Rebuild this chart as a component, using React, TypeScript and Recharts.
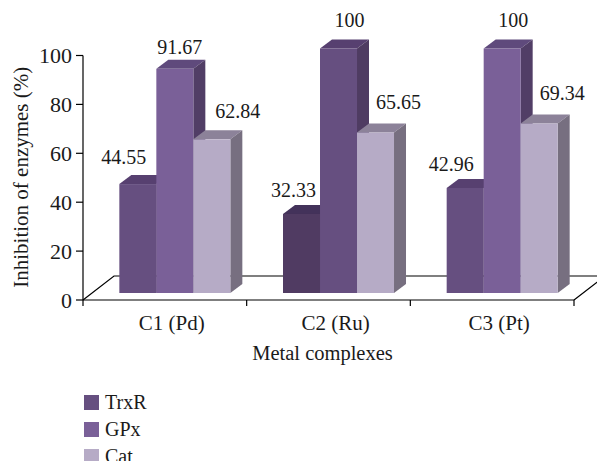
import { BarChart, Bar, XAxis, YAxis, Legend, LabelList, ReferenceArea } from "recharts"

const categories = ["C1 (Pd)", "C2 (Ru)", "C3 (Pt)"]
const trxr = [44.55, 32.33, 42.96]
const gpx = [91.67, 100, 100]
const cat = [62.84, 65.65, 69.34]
const yTicks = [0, 20, 40, 60, 80, 100]

const data = categories.map((name, i) => ({ name, TrxR: trxr[i], GPx: gpx[i], Cat: cat[i] }))

const FONT = "'Liberation Serif', serif"
const TEXT = "#1a1a1a"

// the bars stand a little behind the axis line
const SHIFT_X = 9.5
const SHIFT_Y = 7
const DEPTH_X = 12
const DEPTH_Y = 9

// front, top, side for each category
const dark = ["#503b62", "#43325a", "#47365a"]
const mid = ["#664f80", "#574070", "#4f3c62"]
const light = ["#7a6098", "#5f4a7c", "#513e66"]
const pale = ["#b6abc6", "#8c8299", "#776f80"]

const trxrFaces = [mid, dark, mid]
const gpxFaces = [light, mid, light]
const catFaces = [pale, pale, pale]

// label offset from the top centre of the front face
const trxrNudge = [[-14, -27], [-8, -24], [-14, -24]]
const gpxNudge = [[5, -22], [11, -29], [11, -29]]
const catNudge = [[26, -28], [23, -30], [23, -30]]

function box3d(faces: string[][]) {
  return (props: any) => {
    const { x, y, width, height, index } = props
    const [front, top, side] = faces[index]
    const l = x + SHIFT_X
    const r = l + width
    const t = y - SHIFT_Y
    const b = t + height
    return (
      <g>
        <path d={`M${l},${t}L${l + DEPTH_X},${t - DEPTH_Y}L${r + DEPTH_X},${t - DEPTH_Y}L${r},${t}Z`} fill={top} />
        <path d={`M${r},${t}L${r + DEPTH_X},${t - DEPTH_Y}L${r + DEPTH_X},${b - DEPTH_Y}L${r},${b}Z`} fill={side} />
        <rect x={l} y={t} width={width} height={height} fill={front} />
      </g>
    )
  }
}

function valueLabel(nudge: number[][]) {
  return (props: any) => {
    const { x, y, width, value, index } = props
    return (
      <text
        x={x + SHIFT_X + width / 2 + nudge[index][0]}
        y={y - SHIFT_Y + nudge[index][1]}
        textAnchor="middle"
        dominantBaseline="central"
        fontFamily={FONT}
        fontSize={20}
        fill={TEXT}
      >
        {value}
      </text>
    )
  }
}

function Floor(props: any) {
  const { x, y, width, height } = props
  const bottom = y + height
  return (
    <path
      d={`M${x},${bottom}L${x + 31},${bottom - 24}L${x + width + 31},${bottom - 24}L${x + width},${bottom}`}
      fill="none"
      stroke="#000"
      strokeWidth={1.2}
    />
  )
}

function CategoryTick(props: any) {
  const { x, y, payload, index } = props
  const half = payload.offset
  const axisY = y - 8
  return (
    <g>
      <line x1={x - half} y1={axisY} x2={x - half} y2={axisY + 6} stroke="#000" strokeWidth={1.2} />
      {index === categories.length - 1 && (
        <line x1={x + half} y1={axisY} x2={x + half} y2={axisY + 6} stroke="#000" strokeWidth={1.2} />
      )}
      <text x={x + 7} y={axisY + 30} textAnchor="middle" fontFamily={FONT} fontSize={21} fill={TEXT}>
        {payload.value}
      </text>
    </g>
  )
}

function LegendList() {
  const rows = [
    { name: "TrxR", color: mid[0] },
    { name: "GPx", color: light[0] },
    { name: "Cat", color: pale[0] },
  ]
  return (
    <div style={{ fontFamily: FONT, fontSize: 20, color: TEXT }}>
      {rows.map((row) => (
        <div key={row.name} style={{ display: "flex", alignItems: "center", height: 27 }}>
          <span style={{ width: 15, height: 15, background: row.color, marginRight: 6 }} />
          <span>{row.name}</span>
        </div>
      ))}
    </div>
  )
}

export default function App() {
  return (
    <div style={{ position: "absolute", left: 0, top: 0, width: 597, height: 461, overflow: "hidden" }}>
      <BarChart
        width={597}
        height={461}
        data={data}
        barCategoryGap="16.4%"
        barGap={0}
        margin={{ top: 55.5, right: 23, left: 0, bottom: 121 }}
      >
        <XAxis
          dataKey="name"
          height={40}
          interval={0}
          tick={<CategoryTick />}
          tickLine={false}
          axisLine={{ stroke: "#000", strokeWidth: 1.2 }}
          label={{
            value: "Metal complexes",
            position: "bottom",
            offset: 5,
            dx: -6,
            fontFamily: FONT,
            fontSize: 20.5,
            fill: TEXT,
          }}
        />
        <YAxis
          width={83}
          domain={[0, 100]}
          ticks={yTicks}
          interval={0}
          tickSize={7}
          tickMargin={4}
          tick={{ fontFamily: FONT, fontSize: 22, fill: TEXT }}
          tickLine={{ stroke: "#000", strokeWidth: 1.2 }}
          axisLine={{ stroke: "#000", strokeWidth: 1.2 }}
          label={{
            value: "Inhibition of enzymes (%)",
            angle: -90,
            position: "insideLeft",
            dx: 16,
            dy: 110,
            fontFamily: FONT,
            fontSize: 21,
            fill: TEXT,
          }}
        />
        <ReferenceArea y1={0} y2={100} shape={<Floor />} ifOverflow="visible" />
        <Legend
          layout="vertical"
          align="center"
          verticalAlign="middle"
          content={<LegendList />}
          wrapperStyle={{ left: 84, top: 389, width: 120 }}
        />
        <Bar dataKey="TrxR" fill={mid[0]} shape={box3d(trxrFaces)} isAnimationActive={false}>
          <LabelList dataKey="TrxR" content={valueLabel(trxrNudge)} />
        </Bar>
        <Bar dataKey="GPx" fill={light[0]} shape={box3d(gpxFaces)} isAnimationActive={false}>
          <LabelList dataKey="GPx" content={valueLabel(gpxNudge)} />
        </Bar>
        <Bar dataKey="Cat" fill={pale[0]} shape={box3d(catFaces)} isAnimationActive={false}>
          <LabelList dataKey="Cat" content={valueLabel(catNudge)} />
        </Bar>
      </BarChart>
    </div>
  )
}
